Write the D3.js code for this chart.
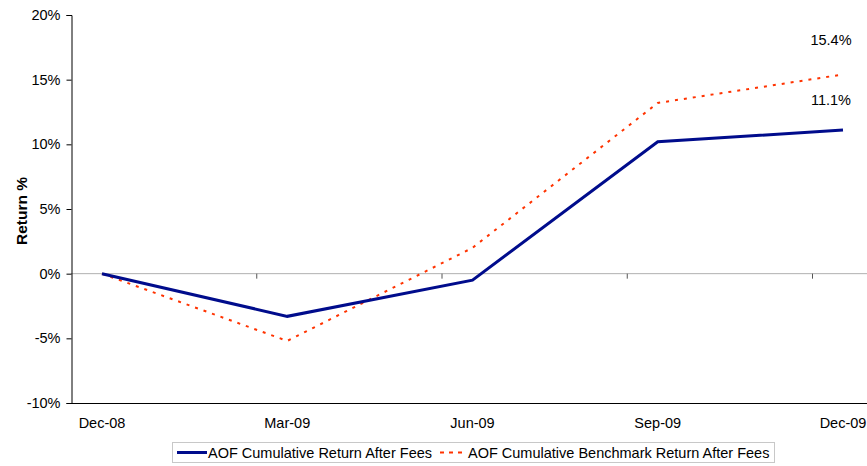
<!DOCTYPE html>
<html>
<head>
<meta charset="utf-8">
<script src="https://cdn.jsdelivr.net/npm/d3@7"></script>
<style>
body { margin: 0; background: #fff; }
text { font-family: "Liberation Sans", Arial, sans-serif; }
</style>
</head>
<body>
<script>
const categories = ["Dec-08", "Mar-09", "Jun-09", "Sep-09", "Dec-09"];
const fundReturn = [0, -3.3, -0.5, 10.2, 11.1];
const benchReturn = [0, -5.2, 2.0, 13.2, 15.4];
const yTicks = [-10, -5, 0, 5, 10, 15, 20];

const width = 867, height = 466;
const plotLeft = 71, plotTop = 15, plotBottom = 403;
const fs = 14.5;

const svg = d3.select("body").append("svg")
    .attr("width", width)
    .attr("height", height);

const y = d3.scaleLinear().domain([-10, 20]).range([plotBottom, plotTop]);
const x = d3.scaleLinear().domain([0, categories.length - 1]).range([102, 843]);
const step = x(1) - x(0);

// zero line
svg.append("line")
    .attr("x1", plotLeft).attr("x2", width)
    .attr("y1", y(0)).attr("y2", y(0))
    .attr("stroke", "#b0b0b0").attr("stroke-width", 1);

// category ticks on the zero line
svg.append("g").selectAll("line")
    .data(d3.range(1, 5))
    .enter().append("line")
    .attr("x1", d => plotLeft + d * step + 0.5).attr("x2", d => plotLeft + d * step + 0.5)
    .attr("y1", y(0)).attr("y2", y(0) + 5)
    .attr("stroke", "#555");

// y axis
const yAxis = svg.append("g")
    .attr("transform", `translate(${plotLeft + 0.5},0)`)
    .call(d3.axisLeft(y).tickValues(yTicks).tickSize(5).tickPadding(6).tickFormat(d => d + "%"));
yAxis.select(".domain").attr("stroke", "#000");
yAxis.selectAll(".tick line").attr("stroke", "#000");
yAxis.selectAll("text").attr("font-size", fs).attr("fill", "#000")
    .attr("font-family", "Liberation Sans, Arial, sans-serif");

// bottom line
svg.append("line")
    .attr("x1", plotLeft).attr("x2", width)
    .attr("y1", plotBottom + 0.5).attr("y2", plotBottom + 0.5)
    .attr("stroke", "#000");

// category labels
svg.append("g").selectAll("text")
    .data(categories)
    .enter().append("text")
    .attr("x", (d, i) => x(i))
    .attr("y", 428)
    .attr("text-anchor", "middle")
    .attr("font-size", fs)
    .text(d => d);

// axis title
svg.append("text")
    .attr("transform", `translate(27,${(plotTop + plotBottom) / 2 + 2}) rotate(-90)`)
    .attr("text-anchor", "middle")
    .attr("font-size", 15.5)
    .attr("font-weight", "bold")
    .text("Return %");

const line = d3.line().x((d, i) => x(i)).y(d => y(d));

svg.append("path")
    .datum(benchReturn)
    .attr("d", line)
    .attr("fill", "none")
    .attr("stroke", "#ff3300")
    .attr("stroke-width", 2)
    .attr("stroke-dasharray", "3,6");

svg.append("path")
    .datum(fundReturn)
    .attr("d", line)
    .attr("fill", "none")
    .attr("stroke", "#000c8c")
    .attr("stroke-width", 3);

// end labels
const last = categories.length - 1;
svg.append("text")
    .attr("x", 831).attr("y", y(benchReturn[last]) - 29)
    .attr("text-anchor", "middle").attr("font-size", fs)
    .text(benchReturn[last].toFixed(1) + "%");
svg.append("text")
    .attr("x", 831).attr("y", y(fundReturn[last]) - 25)
    .attr("text-anchor", "middle").attr("font-size", fs)
    .text(fundReturn[last].toFixed(1) + "%");

// legend
const lg = svg.append("g");
lg.append("rect")
    .attr("x", 172.5).attr("y", 442.5)
    .attr("width", 602).attr("height", 20)
    .attr("fill", "#fff").attr("stroke", "#c8c8c8");
lg.append("line")
    .attr("x1", 177).attr("x2", 207).attr("y1", 452.5).attr("y2", 452.5)
    .attr("stroke", "#000c8c").attr("stroke-width", 3);
lg.append("text")
    .attr("x", 208).attr("y", 458).attr("font-size", fs)
    .text("AOF Cumulative Return After Fees");
lg.append("line")
    .attr("x1", 440).attr("x2", 466).attr("y1", 452.5).attr("y2", 452.5)
    .attr("stroke", "#ff3300").attr("stroke-width", 2).attr("stroke-dasharray", "4,5");
lg.append("text")
    .attr("x", 468).attr("y", 458).attr("font-size", fs)
    .text("AOF Cumulative Benchmark Return After Fees");
</script>
</body>
</html>
